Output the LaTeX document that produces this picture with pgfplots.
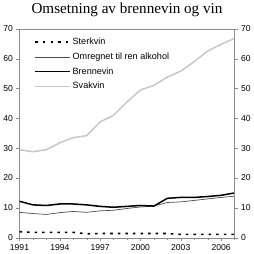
\documentclass[border=0pt]{standalone}
\usepackage{fontspec}
\setmainfont{Liberation Sans}
\newfontfamily\timesfont{Liberation Serif}
\usepackage{pgfplots}
\pgfplotsset{compat=1.18}
\definecolor{axgray}{gray}{0.55}
\definecolor{svak}{gray}{0.78}
\definecolor{omr}{gray}{0.3}
\begin{document}
\begin{tikzpicture}
\pgfplotsset{
  base/.style={
    scale only axis, width=213pt, height=207pt,
    xmin=1991, xmax=2007, ymin=0, ymax=70,
    ytick={0,10,...,70},
    xtick={1991,1994,...,2006},
    minor xtick={1991,...,2007},
    xticklabel style={/pgf/number format/1000 sep={}},
    tick label style={font=\fontsize{8.5}{10}\selectfont},
    /pgf/number format/assume math mode=true,
    tick align=outside, major tick length=3pt, minor tick length=2pt,
    axis line style={axgray}, tick style={axgray},
  }
}
\begin{axis}[base,
  xtick pos=bottom, ytick pos=left,
  title={\timesfont\fontsize{15}{17}\selectfont Omsetning av brennevin og vin},
  title style={yshift=2pt},
  legend style={at={(rel axis cs:0.055,0.975)}, anchor=north west, draw=none, fill=none,
    font=\fontsize{9}{10}\selectfont, row sep=2.5pt},
  legend cell align=left,
  legend image code/.code={\draw[#1] (0cm,0cm) -- (1.2cm,0cm);},
]
\addplot[black, line width=1.6pt, dash pattern=on 2.5pt off 5pt] coordinates {
(1991,2.0)(1992,1.8)(1993,1.8)(1994,1.8)(1995,1.8)(1996,1.3)(1997,1.4)(1998,1.4)(1999,1.4)(2000,1.4)(2001,1.4)(2002,1.4)(2003,1.1)(2004,1.1)(2005,1.1)(2006,1.1)(2007,1.1)};
\addlegendentry{Sterkvin}
\addplot[omr, line width=0.7pt] coordinates {
(1991,8.5)(1992,8.1)(1993,7.8)(1994,8.4)(1995,8.8)(1996,8.5)(1997,9.0)(1998,9.2)(1999,9.8)(2000,10.3)(2001,10.6)(2002,11.8)(2003,12.0)(2004,12.5)(2005,13.0)(2006,13.5)(2007,13.9)};
\addlegendentry{Omregnet til ren alkohol}
\addplot[black, line width=1.5pt] coordinates {
(1991,12.2)(1992,11.0)(1993,10.8)(1994,11.3)(1995,11.3)(1996,11.0)(1997,10.5)(1998,10.2)(1999,10.5)(2000,10.8)(2001,10.6)(2002,13.2)(2003,13.5)(2004,13.5)(2005,13.8)(2006,14.2)(2007,15.0)};
\addlegendentry{Brennevin}
\addplot[svak, line width=1.5pt] coordinates {
(1991,29.5)(1992,28.8)(1993,29.5)(1994,31.8)(1995,33.5)(1996,34.2)(1997,38.8)(1998,41.0)(1999,45.5)(2000,49.5)(2001,51.0)(2002,53.8)(2003,55.8)(2004,59.0)(2005,62.5)(2006,64.8)(2007,66.8)};
\addlegendentry{Svakvin}
\end{axis}
\begin{axis}[base,
  axis x line=none, axis y line*=right,
]
\addplot[draw=none] coordinates {(1991,0)(2007,70)};
\end{axis}
\end{tikzpicture}
\end{document}
